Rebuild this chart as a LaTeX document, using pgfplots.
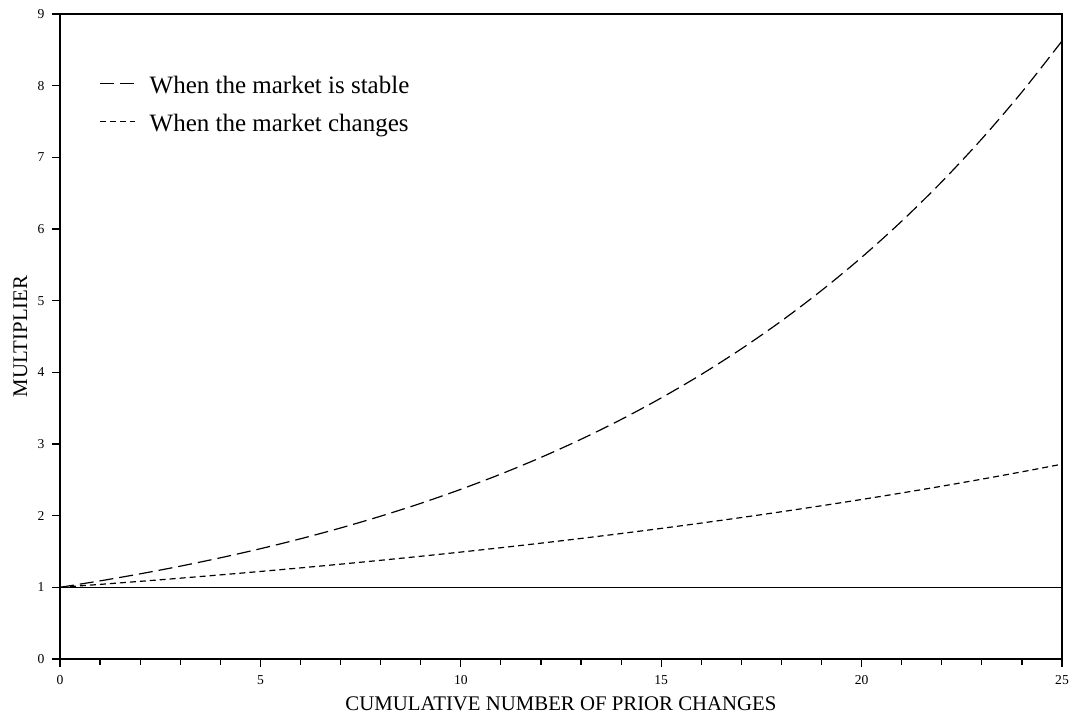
\documentclass[border=0pt]{standalone}
\usepackage{fontspec}
\setmainfont{Liberation Serif}
\usepackage{pgfplots}
\pgfplotsset{compat=1.18}
\begin{document}
\begin{tikzpicture}
\begin{axis}[
  scale only axis,
  width=501pt, height=322.5pt,
  xmin=0, xmax=25, ymin=0, ymax=9,
  xtick={0,5,10,15,20,25},
  ytick={0,1,2,3,4,5,6,7,8,9},
  minor x tick num=4,
  tick align=outside,
  tick pos=left,
  major tick length=4pt,
  minor tick length=3pt,
  axis line style={line width=1pt},
  every tick/.style={line width=0.6pt, black},
  /pgf/number format/assume math mode=true,
  tick label style={font=\fontsize{6.8}{8}\selectfont},
  xticklabel style={yshift=-0.8pt},
  yticklabel style={xshift=-0.3pt},
  label style={font=\fontsize{10.4}{12}\selectfont},
  xlabel={CUMULATIVE NUMBER OF PRIOR CHANGES},
  ylabel={MULTIPLIER},
  xlabel style={at={(axis description cs:0.5,-0.0806)}, anchor=base},
  ylabel style={at={(axis description cs:-0.0329,0.5)}, anchor=base},
  legend style={draw=none, fill=none, inner sep=0pt, at={(0.039,0.9054)}, anchor=north west,
    font=\fontsize{12.5}{15}\selectfont, row sep=7pt, column sep=7pt,
    nodes={inner sep=0pt, text height=9pt, text depth=3pt}},
  legend cell align=left,
  legend image code/.code={\draw[#1] (0pt,1.8pt) -- (17.5pt,1.8pt);},
]
\addplot[black, line width=0.6pt, dash pattern=on 7pt off 3pt, smooth] coordinates {
(0,1) (1,1.09) (2,1.1881) (3,1.2950) (4,1.4116) (5,1.5386) (6,1.6771) (7,1.8280)
(8,1.9926) (9,2.1719) (10,2.3674) (11,2.5804) (12,2.8127) (13,3.0658) (14,3.3417)
(15,3.6425) (16,3.9703) (17,4.3276) (18,4.7171) (19,5.1417) (20,5.6044) (21,6.1088)
(22,6.6586) (23,7.2579) (24,7.9111) (25,8.6231)};
\addlegendentry{When the market is stable}
\addplot[black, line width=0.6pt, dash pattern=on 3pt off 2pt, smooth] coordinates {
(0,1) (1,1.0408) (2,1.0833) (3,1.1275) (4,1.1735) (5,1.2214) (6,1.2712) (7,1.3231)
(8,1.3771) (9,1.4333) (10,1.4918) (11,1.5527) (12,1.6161) (13,1.6820) (14,1.7507)
(15,1.8221) (16,1.8965) (17,1.9739) (18,2.0544) (19,2.1383) (20,2.2255) (21,2.3164)
(22,2.4109) (23,2.5093) (24,2.6117) (25,2.7183)};
\addlegendentry{When the market changes}
\addplot[black, line width=0.5pt, forget plot] coordinates {(0,1) (25,1)};
\end{axis}
\pgfresetboundingbox
\path[use as bounding box] ([shift={(-30pt,-27pt)}]current axis.south west) rectangle ([shift={(4.5pt,7pt)}]current axis.north east);
\end{tikzpicture}
\end{document}
